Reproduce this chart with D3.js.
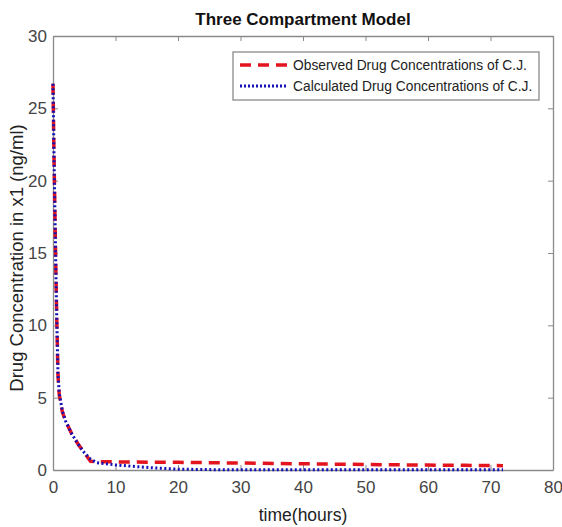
<!DOCTYPE html>
<html>
<head>
<meta charset="utf-8">
<script src="https://cdn.jsdelivr.net/npm/d3@7"></script>
<style>
  body { margin: 0; background: #fff; }
  text { font-family: "Liberation Sans", Arial, sans-serif; }
</style>
</head>
<body>
<div class="canvas"></div>
<script>
// data
const timeObs = [0, 0.15, 0.3, 0.45, 0.6, 0.8, 1, 1.5, 2, 3, 4, 5, 6, 8, 10, 12, 16, 20, 24, 30, 36, 42, 48, 54, 60, 66, 72];
const observed = [26.7, 22, 18, 14, 10.5, 6.5, 5.2, 4.0, 3.4, 2.5, 1.8, 1.2, 0.6, 0.57, 0.56, 0.55, 0.54, 0.53, 0.51, 0.48, 0.45, 0.42, 0.39, 0.36, 0.34, 0.32, 0.3];
const timeCalc = [0, 0.15, 0.3, 0.45, 0.6, 0.8, 1, 1.5, 2, 3, 4, 5, 6, 7, 8, 10, 12, 16, 20, 24, 30, 36, 42, 48, 54, 60, 66, 72];
const calculated = [26.7, 22, 18, 14, 10.5, 6.6, 5.3, 4.1, 3.4, 2.5, 1.8, 1.2, 0.75, 0.5, 0.45, 0.35, 0.28, 0.15, 0.06, 0.03, 0.01, 0.01, 0.01, 0.01, 0.01, 0.01, 0.01, 0.01];
const xTicks = [0, 10, 20, 30, 40, 50, 60, 70, 80];
const yTicks = [0, 5, 10, 15, 20, 25, 30];
const legendLabels = ['Observed Drug Concentrations of C.J.', 'Calculated Drug Concentrations of C.J.'];

// graph dimensions
const width = 562, height = 527;
const margin = { top: 36, right: 9, bottom: 57, left: 53 };
const graphWidth = width - margin.left - margin.right;
const graphHeight = height - margin.top - margin.bottom;

const svg = d3.select('.canvas')
  .append('svg')
  .attr('width', width)
  .attr('height', height);

const graph = svg.append('g')
  .attr('transform', `translate(${margin.left}, ${margin.top})`);

// scales
const x = d3.scaleLinear().domain([0, 80]).range([0, graphWidth]);
const y = d3.scaleLinear().domain([0, 30]).range([graphHeight, 0]);

const axisColor = '#8a8a8a';
const labelColor = '#444';

// axes (ticks inside, mirrored on top/right)
const styleAxis = g => {
  g.select('.domain').attr('stroke', axisColor).attr('stroke-width', 1.3);
  g.selectAll('.tick line').attr('stroke', axisColor);
  g.selectAll('.tick text').attr('fill', labelColor).style('font-size', '17px');
};

graph.append('g')
  .attr('transform', `translate(0, ${graphHeight})`)
  .call(d3.axisBottom(x).tickValues(xTicks).tickSizeInner(-5).tickSizeOuter(0).tickPadding(11))
  .call(styleAxis);
graph.append('g')
  .call(d3.axisTop(x).tickValues(xTicks).tickSizeInner(-5).tickSizeOuter(0).tickFormat(''))
  .call(styleAxis);
graph.append('g')
  .call(d3.axisLeft(y).tickValues(yTicks).tickSizeInner(-5).tickSizeOuter(0).tickPadding(6))
  .call(styleAxis);
graph.append('g')
  .attr('transform', `translate(${graphWidth}, 0)`)
  .call(d3.axisRight(y).tickValues(yTicks).tickSizeInner(-5).tickSizeOuter(0).tickFormat(''))
  .call(styleAxis);

// lines
const lineGen = (ts) => d3.line()
  .x((d, i) => x(ts[i]))
  .y(d => y(d));

const red = '#e3141e';
const blue = '#1212b8';

graph.append('path')
  .datum(observed)
  .attr('fill', 'none')
  .attr('stroke', red)
  .attr('stroke-width', 3.5)
  .attr('stroke-dasharray', '11,7')
  .attr('d', lineGen(timeObs));

graph.append('path')
  .datum(calculated)
  .attr('fill', 'none')
  .attr('stroke', blue)
  .attr('stroke-width', 3)
  .attr('stroke-dasharray', '2,2.5')
  .attr('d', lineGen(timeCalc));

// title and axis labels
svg.append('text')
  .attr('x', margin.left + graphWidth / 2)
  .attr('y', 25)
  .attr('text-anchor', 'middle')
  .style('font-size', '17px')
  .style('font-weight', 'bold')
  .attr('fill', '#111')
  .text('Three Compartment Model');

svg.append('text')
  .attr('x', margin.left + graphWidth / 2)
  .attr('y', 521)
  .attr('text-anchor', 'middle')
  .style('font-size', '17.5px')
  .attr('fill', '#222')
  .text('time(hours)');

svg.append('text')
  .attr('transform', `translate(23, ${margin.top + graphHeight / 2 + 5}) rotate(-90)`)
  .attr('text-anchor', 'middle')
  .style('font-size', '18.5px')
  .attr('fill', '#222')
  .text('Drug Concentration in x1 (ng/ml)');

// legend
const legend = svg.append('g').attr('transform', 'translate(233, 52)');
legend.append('rect')
  .attr('width', 306).attr('height', 48)
  .attr('fill', '#fff')
  .attr('stroke', axisColor)
  .attr('stroke-width', 1.3);

const legendStyles = [
  { color: red, width: 3.5, dash: '11,7' },
  { color: blue, width: 3, dash: '2,2' }
];

legendLabels.forEach((label, i) => {
  const row = legend.append('g').attr('transform', `translate(0, ${13 + i * 21})`);
  row.append('line')
    .attr('x1', 7).attr('x2', 55)
    .attr('stroke', legendStyles[i].color)
    .attr('stroke-width', legendStyles[i].width)
    .attr('stroke-dasharray', legendStyles[i].dash);
  row.append('text')
    .attr('x', 60).attr('y', 5)
    .style('font-size', '13.8px')
    .attr('fill', '#222')
    .text(label);
});
</script>
</body>
</html>
